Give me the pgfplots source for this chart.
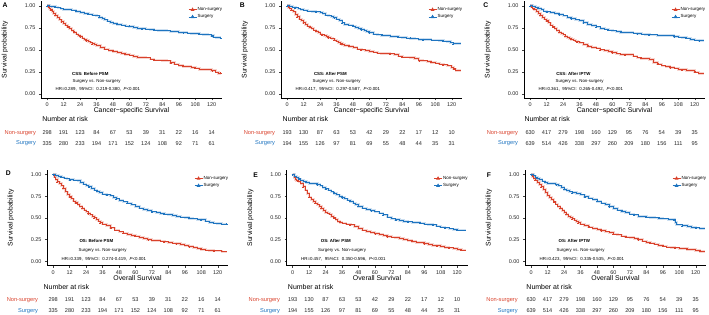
\documentclass[border=0pt]{standalone}
\usepackage{pgfplots}
\pgfplotsset{compat=1.18}
\usepackage{pgfplotstable}
\usepackage{fontspec}
\setmainfont{Liberation Sans}
\definecolor{nscol}{HTML}{D9412B}
\definecolor{sgcol}{HTML}{1E74C0}
\newcommand\ftick{\fontsize{5.5}{6}\selectfont}
\newcommand\fylab{\fontsize{6.8}{7}\selectfont}
\newcommand\fxlab{\fontsize{6.9}{7.5}\selectfont}
\newcommand\fann{\fontsize{4.4}{5}\selectfont}
\newcommand\fleg{\fontsize{4.5}{5}\selectfont}
\newcommand\fnar{\fontsize{7}{8}\selectfont}
\newcommand\frisk{\fontsize{5.6}{6}\selectfont}
\newcommand\frow{\fontsize{5.7}{6}\selectfont}
\newcommand\fpan{\fontsize{6.8}{7}\selectfont\bfseries}

\pgfplotsset{
 km/.style={
  scale only axis, width=181bp,
  xmin=-4.5, xmax=127.5, ymin=-0.05, ymax=1.05,
  axis lines*=left, tick align=outside, major tick length=2bp,
  xtick={0,12,24,36,48,60,72,84,96,108,120},
  xticklabels={0,12,24,36,48,60,72,84,96,108,120},
  ytick={0,0.25,0.5,0.75,1},
  yticklabels={0.00,0.25,0.50,0.75,1.00},
  tick label style={font=\ftick, text=black!85},
  xticklabel style={yshift=0.9bp},
  tick style={black!75, line width=0.4bp},
  axis line style={black, line width=0.5bp},
  clip=false,
  ylabel={Survival probability},
  every axis y label/.style={at={(axis description cs:-0.2,0.5)}, rotate=90, anchor=center, font=\fylab},
  legend style={at={(0.812,0.945)}, anchor=north west, draw=none, fill=none, font=\fleg,
    row sep=1.4bp, inner sep=0pt, nodes={inner sep=0.6bp}},
  legend cell align=left,
  legend image code/.code={\draw[##1,line width=0.8bp] (0bp,0bp) -- (8bp,0bp);
     \draw[##1,mark=triangle*,mark size=1.4bp] plot coordinates {(4bp,0bp)};},
 },
 toprow/.style={height=97.2bp, xlabel={Cancer−specific Survival},
  every axis x label/.style={at={(axis description cs:0.5,0)}, anchor=center, yshift=-12.2bp, font=\fxlab}},
 botrow/.style={height=95.5bp, xlabel={Overall Survival},
  every axis x label/.style={at={(axis description cs:0.5,0)}, anchor=center, yshift=-12.3bp, font=\fxlab}},
 band/.style={const plot, line width=2.6bp, opacity=0.22, forget plot, mark=none},
 curve/.style={const plot, line width=0.9bp, forget plot, mark=none},
 cens/.style={only marks, mark=+, mark size=1bp, mark repeat=3, forget plot, line width=0.35bp},
}
\newcommand\risk[2]{\pgfplotsextra{\foreach \n [count=\i from 0] in {#2}{\pgfmathtruncatemacro\tx{12*\i}\node[font=\frisk,text=black!85] at (axis cs:\tx,#1) {\n};}}}
\newcommand\kmcurves[2]{%
  \addplot[band, nscol] table {#1};
  \addplot[band, sgcol] table {#2};
  \addplot[curve, nscol] table {#1};
  \addplot[curve, sgcol] table {#2};
  \addplot[cens, nscol] table {#1};
  \addplot[cens, sgcol] table {#2};
  \addlegendimage{nscol, line width=0.9bp}\addlegendentry{Non-surgery}
  \addlegendimage{sgcol, line width=0.9bp}\addlegendentry{Surgery}
}

% ---------- data (months, survival) ----------
\pgfplotstableread{
t s
0 1.00
0.8 0.985
1.5 0.97
2.5 0.955
3.5 0.935
4.5 0.915
6 0.89
7.5 0.865
9 0.84
10.5 0.82
12 0.80
13.5 0.78
15 0.76
16.5 0.74
18 0.72
19.5 0.70
21 0.68
22.5 0.665
24 0.65
25.5 0.635
27 0.62
28.5 0.605
30 0.59
31.5 0.58
33 0.57
34.5 0.56
36 0.55
39 0.53
42 0.51
45 0.495
48 0.485
51 0.47
54 0.46
57 0.45
60 0.44
63 0.425
66 0.415
72 0.41
75 0.395
78 0.385
84 0.38
87 0.375
90 0.355
93 0.34
96 0.325
99 0.315
102 0.31
105 0.30
108 0.295
111 0.28
117 0.275
120 0.265
123 0.25
125 0.235
126.5 0.235
}\Ans
\pgfplotstableread{
t s
0 1
2 0.995
4 0.99
6 0.985
8 0.975
10 0.965
12 0.96
15 0.955
18 0.95
21 0.935
24 0.92
27 0.915
30 0.905
33 0.895
36 0.885
38 0.87
40 0.855
42 0.84
44 0.825
46 0.81
48 0.80
51 0.79
54 0.78
57 0.77
60 0.765
63 0.755
66 0.745
69 0.74
72 0.735
75 0.73
78 0.725
81 0.72
87 0.715
90 0.71
93 0.705
96 0.70
99 0.695
102 0.69
105 0.685
111 0.68
114 0.675
117 0.67
120 0.66
121.5 0.645
123 0.638
126.5 0.638
}\Asg
\pgfplotstableread{
t s
0 1
1 0.98
2 0.965
3 0.95
4.5 0.93
6 0.90
7.5 0.875
9 0.85
10.5 0.83
12 0.81
13.5 0.79
15 0.77
16.5 0.755
18 0.74
19.5 0.725
21 0.71
22.5 0.695
24 0.68
25.5 0.67
27 0.66
28.5 0.65
30 0.64
31.5 0.635
33 0.625
34.5 0.61
36 0.60
37.5 0.585
39 0.57
40.5 0.56
42 0.55
45 0.54
48 0.53
51 0.51
54 0.50
57 0.49
60 0.48
63 0.475
66 0.465
69 0.46
75 0.455
78 0.45
81 0.43
84 0.42
90 0.415
93 0.40
96 0.38
99 0.375
102 0.37
105 0.36
108 0.35
111 0.34
114 0.33
117 0.32
120 0.30
121.5 0.285
123 0.27
126.5 0.27
}\Bns
\pgfplotstableread{
t s
0 1
2 0.995
4 0.985
6 0.975
8 0.965
10 0.955
12 0.95
15 0.94
18 0.935
21 0.93
24 0.92
26 0.91
28 0.895
30 0.885
32 0.875
34 0.865
36 0.85
38 0.83
40 0.805
42 0.79
45 0.78
48 0.77
50 0.755
52 0.745
54 0.73
56 0.72
58 0.71
60 0.695
63 0.68
66 0.67
69 0.665
72 0.66
75 0.655
81 0.645
84 0.64
87 0.635
90 0.63
93 0.625
96 0.62
99 0.615
105 0.61
111 0.605
114 0.60
117 0.595
119 0.58
121 0.57
126.5 0.57
}\Bsg
\pgfplotstableread{
t s
0 1
1 0.985
2 0.97
3 0.96
4.5 0.935
6 0.91
7.5 0.89
9 0.87
10.5 0.85
12 0.83
13.5 0.805
15 0.78
16.5 0.76
18 0.74
19.5 0.72
21 0.70
22.5 0.685
24 0.67
25.5 0.655
27 0.64
28.5 0.63
30 0.62
31.5 0.61
33 0.60
34.5 0.59
36 0.58
39 0.56
42 0.54
45 0.53
48 0.52
51 0.50
54 0.49
57 0.48
60 0.47
63 0.455
66 0.45
69 0.445
75 0.43
78 0.41
81 0.405
87 0.39
90 0.36
93 0.34
96 0.32
99 0.31
102 0.30
105 0.295
108 0.28
111 0.275
114 0.27
117 0.265
120 0.25
123 0.235
126.5 0.235
}\Cns
\pgfplotstableread{
t s
0 1
2 0.995
4 0.985
6 0.97
8 0.955
10 0.94
12 0.93
15 0.92
18 0.915
21 0.90
24 0.885
27 0.87
30 0.855
33 0.84
36 0.83
39 0.81
42 0.79
45 0.775
48 0.76
51 0.745
54 0.735
57 0.725
60 0.715
63 0.705
66 0.70
69 0.695
75 0.69
78 0.685
81 0.68
84 0.675
87 0.67
93 0.665
99 0.66
105 0.65
108 0.645
111 0.64
114 0.635
117 0.62
120 0.61
123 0.605
126.5 0.605
}\Csg
\pgfplotstableread{
t s
0 1
1 0.97
2 0.94
3 0.915
4.5 0.895
6 0.87
7.5 0.84
9 0.80
10.5 0.77
12 0.745
13.5 0.72
15 0.695
16.5 0.675
18 0.655
19.5 0.63
21 0.61
22.5 0.59
24 0.57
25.5 0.55
27 0.535
28.5 0.515
30 0.50
31.5 0.485
33 0.465
34.5 0.445
36 0.43
39 0.41
42 0.385
45 0.36
48 0.34
51 0.325
54 0.31
57 0.30
60 0.29
63 0.275
66 0.26
69 0.25
72 0.24
78 0.235
81 0.225
84 0.22
87 0.21
90 0.205
93 0.195
96 0.185
99 0.17
102 0.16
105 0.145
108 0.14
111 0.13
114 0.125
117 0.12
123 0.11
126.5 0.11
}\Dns
\pgfplotstableread{
t s
0 1
2 0.99
4 0.98
6 0.97
8 0.96
10 0.95
12 0.94
15 0.935
18 0.93
20 0.91
22 0.89
24 0.875
26 0.86
28 0.84
30 0.82
32 0.805
34 0.79
36 0.775
39 0.765
42 0.755
44 0.735
46 0.72
48 0.70
51 0.685
54 0.67
57 0.65
60 0.63
63 0.615
66 0.60
69 0.585
72 0.57
75 0.56
78 0.55
81 0.545
84 0.54
87 0.53
90 0.52
93 0.51
96 0.505
99 0.495
102 0.49
105 0.485
108 0.48
111 0.465
114 0.45
117 0.44
120 0.435
123 0.43
126.5 0.43
}\Dsg
\pgfplotstableread{
t s
0 1
1 0.965
2 0.945
3 0.93
4.5 0.915
6 0.895
7.5 0.86
9 0.82
10.5 0.78
12 0.74
13.5 0.715
15 0.69
16.5 0.67
18 0.65
19.5 0.63
21 0.61
22.5 0.585
24 0.565
25.5 0.555
27 0.545
28.5 0.52
30 0.50
31.5 0.48
33 0.46
34.5 0.45
36 0.44
39 0.43
42 0.42
45 0.40
48 0.38
51 0.36
54 0.345
57 0.33
60 0.32
63 0.31
66 0.295
69 0.285
72 0.28
75 0.275
78 0.265
81 0.25
84 0.24
87 0.23
90 0.22
93 0.215
96 0.205
99 0.195
102 0.185
105 0.18
108 0.17
111 0.16
114 0.155
117 0.145
120 0.135
123 0.13
126.5 0.13
}\Ens
\pgfplotstableread{
t s
0 1
1.5 0.98
3 0.965
4.5 0.95
6 0.935
8 0.92
10 0.91
12 0.90
15 0.895
18 0.885
20 0.87
22 0.85
24 0.835
26 0.82
28 0.80
30 0.785
32 0.765
34 0.75
36 0.735
38 0.72
40 0.705
42 0.69
44 0.67
46 0.655
48 0.635
51 0.615
54 0.60
57 0.585
60 0.57
63 0.555
66 0.535
69 0.51
72 0.49
75 0.48
78 0.47
81 0.46
84 0.455
87 0.45
90 0.445
93 0.44
96 0.43
99 0.425
102 0.42
105 0.405
108 0.395
111 0.385
114 0.375
117 0.365
120 0.36
126.5 0.36
}\Esg
\pgfplotstableread{
t s
0 1
1 0.975
2 0.955
3 0.935
4.5 0.91
6 0.885
7.5 0.86
9 0.825
10.5 0.79
12 0.76
13.5 0.735
15 0.71
16.5 0.685
18 0.66
19.5 0.635
21 0.61
22.5 0.585
24 0.56
25.5 0.54
27 0.52
28.5 0.505
30 0.49
31.5 0.475
33 0.46
34.5 0.445
36 0.43
39 0.41
42 0.395
45 0.38
48 0.37
51 0.355
54 0.34
57 0.33
60 0.315
63 0.305
66 0.29
69 0.28
72 0.275
75 0.265
78 0.25
81 0.235
84 0.22
87 0.21
90 0.20
93 0.185
96 0.175
99 0.165
102 0.16
105 0.155
108 0.15
111 0.145
114 0.14
117 0.135
120 0.125
123 0.115
126.5 0.115
}\Fns
\pgfplotstableread{
t s
0 1
1.5 0.985
3 0.97
4.5 0.955
6 0.94
8 0.925
10 0.91
12 0.90
15 0.895
18 0.885
20 0.87
22 0.85
24 0.83
26 0.815
28 0.80
30 0.79
33 0.78
36 0.765
39 0.745
42 0.73
45 0.71
48 0.69
51 0.67
54 0.655
57 0.63
60 0.61
63 0.59
66 0.575
69 0.56
72 0.545
75 0.535
78 0.52
81 0.515
84 0.51
87 0.505
90 0.50
93 0.495
96 0.49
100 0.485
104 0.48
105 0.445
106 0.42
110 0.41
114 0.40
117 0.39
120 0.385
123 0.38
126.5 0.38
}\Fsg

\begin{document}
\begin{tikzpicture}
\useasboundingbox (0,0) rectangle (709bp,315bp);

% ===== A =====
\begin{axis}[km, toprow, at={(41bp,216.5bp)}]
\kmcurves{\Ans}{\Asg}
\node[font=\fann\bfseries] at (axis cs:31.5,0.227) {CSS: Before PSM};
\node[font=\fann] at (axis cs:36,0.14) {Surgery vs. Non-surgery};
\node[font=\fann] at (axis cs:37,0.054) {HR=0.289,\hspace{0.6em}95\%CI:\hspace{0.6em}0.219-0.380,\hspace{0.6em}\textit{P}<0.001};
\node[font=\fnar, anchor=west] at (axis cs:-6,-0.279) {Number at risk};
\node[font=\frow, text=nscol, anchor=east] at (axis cs:-5.6,-0.437) {Non-surgery};
\node[font=\frow, text=sgcol, anchor=east] at (axis cs:-5.6,-0.559) {Surgery};
\risk{-0.437}{298,191,123,84,67,53,39,31,22,16,14}
\risk{-0.559}{335,280,233,194,171,152,124,108,92,71,61}
\end{axis}

% ===== B =====
\begin{axis}[km, toprow, at={(281bp,216.5bp)}]
\kmcurves{\Bns}{\Bsg}
\node[font=\fann\bfseries] at (axis cs:31.5,0.227) {CSS: After PSM};
\node[font=\fann] at (axis cs:36,0.14) {Surgery vs. Non-surgery};
\node[font=\fann] at (axis cs:37,0.054) {HR=0.417,\hspace{0.6em}95\%CI:\hspace{0.6em}0.297-0.587,\hspace{0.6em}\textit{P}<0.001};
\node[font=\fnar, anchor=west] at (axis cs:-5.8,-0.279) {Number at risk};
\node[font=\frow, text=nscol, anchor=east] at (axis cs:-6.3,-0.437) {Non-surgery};
\node[font=\frow, text=sgcol, anchor=east] at (axis cs:-6.3,-0.559) {Surgery};
\risk{-0.437}{193,130,87,63,53,42,29,22,17,12,10}
\risk{-0.559}{194,155,126,97,81,69,55,48,44,35,31}
\end{axis}

% ===== C =====
\begin{axis}[km, toprow, at={(524bp,216.5bp)}]
\kmcurves{\Cns}{\Csg}
\node[font=\fann\bfseries] at (axis cs:31.5,0.227) {CSS: After IPTW};
\node[font=\fann] at (axis cs:36,0.14) {Surgery vs. Non-surgery};
\node[font=\fann] at (axis cs:37,0.054) {HR=0.361,\hspace{0.6em}95\%CI:\hspace{0.6em}0.265-0.492,\hspace{0.6em}\textit{P}<0.001};
\node[font=\fnar, anchor=west] at (axis cs:-6.7,-0.279) {Number at risk};
\node[font=\frow, text=nscol, anchor=east] at (axis cs:-6.3,-0.437) {Non-surgery};
\node[font=\frow, text=sgcol, anchor=east] at (axis cs:-6.3,-0.559) {Surgery};
\risk{-0.437}{630,417,279,198,160,129,95,76,54,39,35}
\risk{-0.559}{639,514,426,338,297,260,209,180,156,111,95}
\end{axis}

% ===== D =====
\begin{axis}[km, botrow, at={(47bp,49.3bp)}]
\kmcurves{\Dns}{\Dsg}
\node[font=\fann\bfseries] at (axis cs:31.5,0.235) {OS: Before PSM};
\node[font=\fann] at (axis cs:36,0.131) {Surgery vs. Non-surgery};
\node[font=\fann] at (axis cs:37,0.03) {HR=0.339,\hspace{0.6em}95\%CI:\hspace{0.6em}0.274-0.419,\hspace{0.6em}\textit{P}<0.001};
\node[font=\fnar, anchor=west] at (axis cs:-9.5,-0.30) {Number at risk};
\node[font=\frow, text=nscol, anchor=east] at (axis cs:-8.5,-0.442) {Non-surgery};
\node[font=\frow, text=sgcol, anchor=east] at (axis cs:-8.5,-0.568) {Surgery};
\risk{-0.442}{298,191,123,84,67,53,39,31,22,16,14}
\risk{-0.568}{335,280,233,194,171,152,124,108,92,71,61}
\end{axis}

% ===== E =====
\begin{axis}[km, botrow, at={(286.5bp,49.3bp)}]
\kmcurves{\Ens}{\Esg}
\node[font=\fann\bfseries] at (axis cs:31.5,0.235) {OS: After PSM};
\node[font=\fann] at (axis cs:36,0.131) {Surgery vs. Non-surgery};
\node[font=\fann] at (axis cs:37,0.03) {HR=0.457,\hspace{0.6em}95\%CI:\hspace{0.6em}0.350-0.596,\hspace{0.6em}\textit{P}<0.001};
\node[font=\fnar, anchor=west] at (axis cs:-6,-0.30) {Number at risk};
\node[font=\frow, text=nscol, anchor=east] at (axis cs:-6.7,-0.442) {Non-surgery};
\node[font=\frow, text=sgcol, anchor=east] at (axis cs:-6.7,-0.568) {Surgery};
\risk{-0.442}{193,130,87,63,53,42,29,22,17,12,10}
\risk{-0.568}{194,155,126,97,81,69,55,48,44,35,31}
\end{axis}

% ===== F =====
\begin{axis}[km, botrow, at={(525bp,49.3bp)}]
\kmcurves{\Fns}{\Fsg}
\node[font=\fann\bfseries] at (axis cs:31.5,0.235) {OS: After IPTW};
\node[font=\fann] at (axis cs:36,0.131) {Surgery vs. Non-surgery};
\node[font=\fann] at (axis cs:37,0.03) {HR=0.423,\hspace{0.6em}95\%CI:\hspace{0.6em}0.335-0.535,\hspace{0.6em}\textit{P}<0.001};
\node[font=\fnar, anchor=west] at (axis cs:-6,-0.30) {Number at risk};
\node[font=\frow, text=nscol, anchor=east] at (axis cs:-7.3,-0.442) {Non-surgery};
\node[font=\frow, text=sgcol, anchor=east] at (axis cs:-7.3,-0.568) {Surgery};
\risk{-0.442}{630,417,279,198,160,129,95,76,54,39,35}
\risk{-0.568}{639,514,426,338,297,260,209,180,156,111,95}
\end{axis}

% panel letters
\node[font=\fpan] at (5bp,309.5bp) {A};
\node[font=\fpan] at (242.3bp,310bp) {B};
\node[font=\fpan] at (485.7bp,310bp) {C};
\node[font=\fpan] at (8.3bp,141.7bp) {D};
\node[font=\fpan] at (255.7bp,140bp) {E};
\node[font=\fpan] at (489bp,140bp) {F};
\end{tikzpicture}
\end{document}
